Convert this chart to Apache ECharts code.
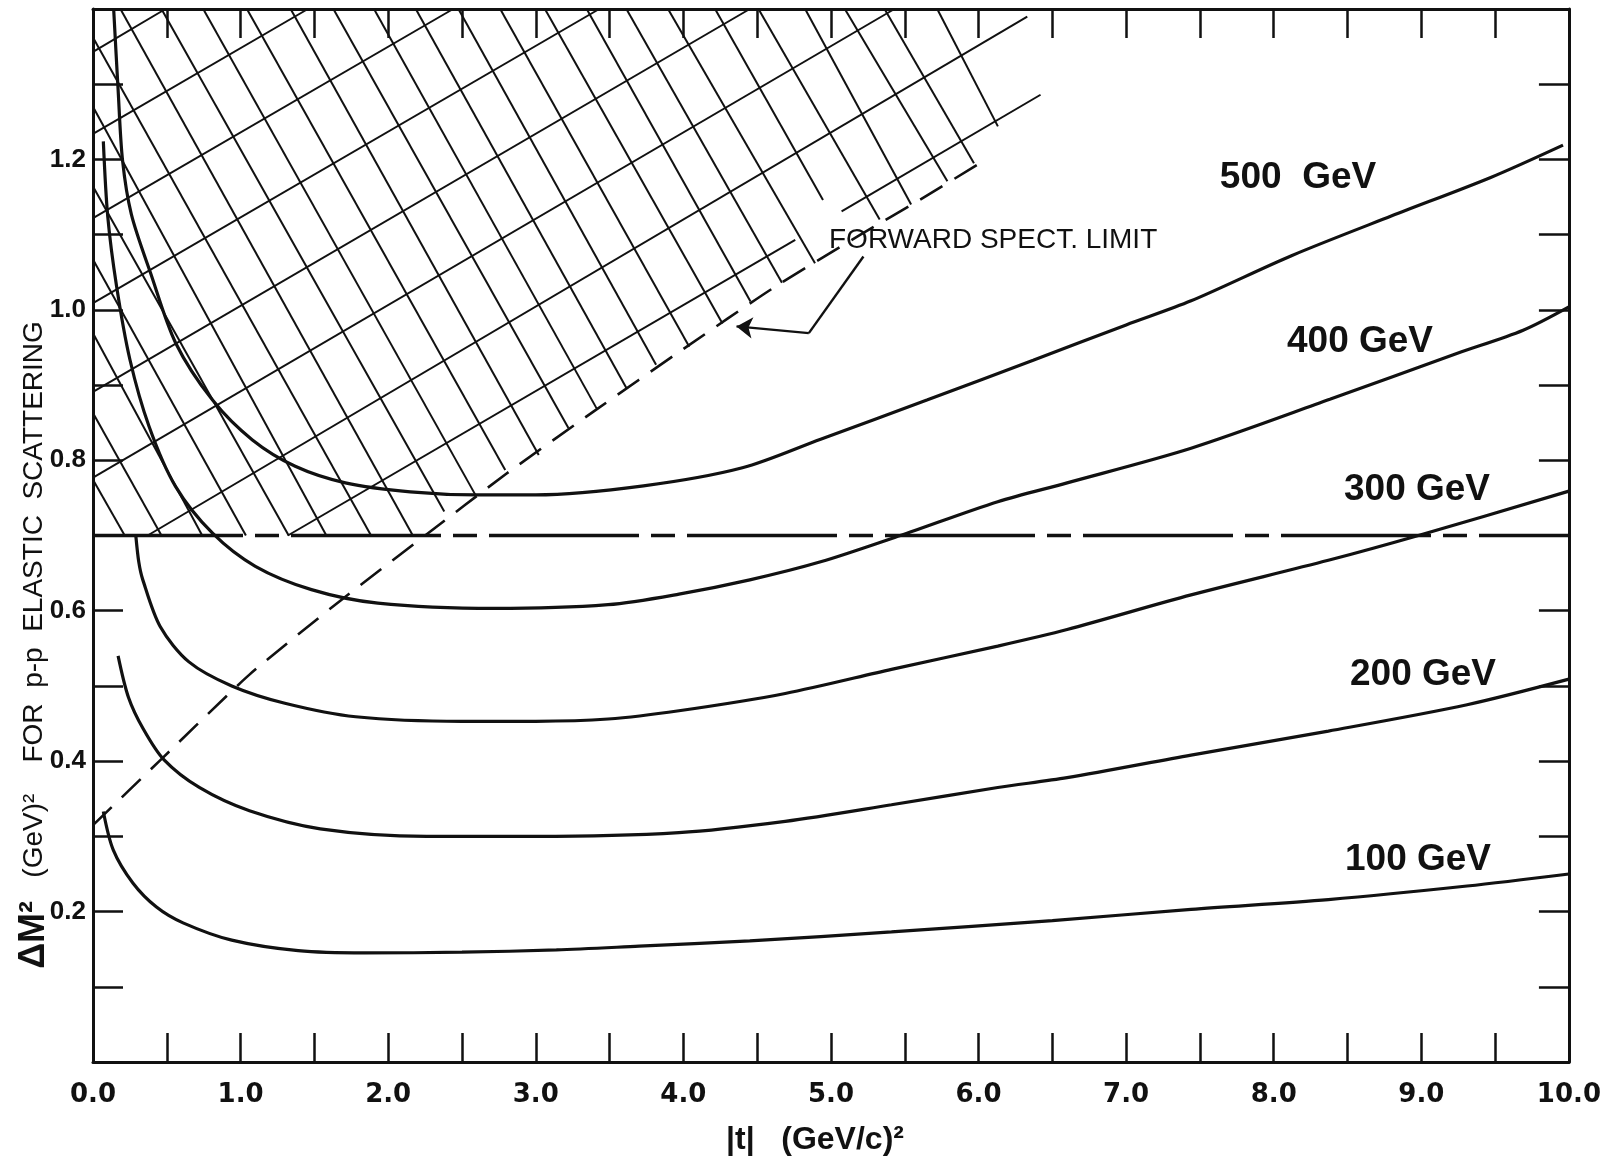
<!DOCTYPE html>
<html>
<head>
<meta charset="utf-8">
<title>Delta M^2 vs |t|</title>
<script src="https://cdn.jsdelivr.net/npm/echarts@6/dist/echarts.min.js"></script>
<style>
  html, body { margin: 0; padding: 0; background: #fff; }
  #chart { width: 1604px; height: 1156px; }
</style>
</head>
<body>
<div id="chart"></div>
<script>
// curves: [|t| (GeV/c)^2, dM^2 (GeV)^2]
const curve100 = [[0.07,0.333],[0.137,0.282],[0.27,0.238],[0.43,0.206],[0.61,0.185],[0.94,0.162],[1.39,0.148],[1.84,0.145],[2.5,0.146],[3.14,0.149],[3.7,0.154],[4.45,0.161],[5.41,0.173],[6.5,0.188],[7.44,0.203],[8.37,0.216],[9.31,0.234],[10,0.25]]
const curve200 = [[0.17,0.54],[0.24,0.485],[0.34,0.443],[0.48,0.402],[0.72,0.365],[1.06,0.334],[1.54,0.31],[2.26,0.30],[3.0,0.30],[3.97,0.305],[4.69,0.32],[5.41,0.342],[6.13,0.365],[6.6,0.378],[7.44,0.408],[8.37,0.44],[9.31,0.475],[10,0.509]]
const curve300 = [[0.29,0.70],[0.31,0.665],[0.336,0.642],[0.455,0.579],[0.65,0.532],[0.94,0.50],[1.3,0.477],[1.78,0.459],[2.5,0.453],[3.0,0.453],[3.49,0.456],[3.97,0.467],[4.69,0.49],[5.41,0.522],[6.13,0.553],[6.6,0.575],[7.44,0.621],[8.37,0.667],[8.98,0.70],[10,0.759]]
const curve400 = [[0.07,1.224],[0.10,1.124],[0.16,1.031],[0.25,0.934],[0.38,0.845],[0.56,0.765],[0.81,0.703],[1.10,0.659],[1.48,0.628],[1.93,0.61],[2.72,0.603],[3.49,0.608],[3.97,0.622],[4.45,0.641],[4.93,0.665],[5.47,0.70],[6.13,0.745],[6.6,0.770],[7.44,0.816],[8.38,0.881],[9.24,0.942],[9.69,0.973],[10,1.004]]
const curve500 = [[0.14,1.40],[0.17,1.293],[0.20,1.199],[0.26,1.127],[0.39,1.049],[0.56,0.956],[0.81,0.880],[1.08,0.827],[1.37,0.792],[1.71,0.770],[2.15,0.758],[2.6,0.754],[3.0,0.754],[3.73,0.766],[4.40,0.79],[4.93,0.828],[5.65,0.88],[6.37,0.933],[7.0,0.98],[7.44,1.012],[8.12,1.072],[8.8,1.125],[9.47,1.176],[9.96,1.219]]

// forward spectrometer limit (dashed) and the 0.7 cut
const specLimit = [[0,0.315],[0.46,0.402],[1.06,0.515],[1.68,0.614],[2.25,0.70],[2.8,0.782],[3.4,0.866],[4.0,0.948],[4.6,1.028],[5.2,1.100],[5.6,1.146],[6.05,1.200]]
const massCut = [[0,0.7],[10,0.7]]

// hatch segments [x1, y1, x2, y2]
const hatchSteep = [
  [0,0.774,0.215,0.7],[0,0.863,0.464,0.7],[0,0.969,0.740,0.7],[0,1.067,1.036,0.7],
  [0,1.164,1.326,0.7],[0,1.270,1.581,0.7],[0,1.362,1.884,0.7],[0.186,1.4,2.167,0.7],
  [0.464,1.4,2.380,0.732],[0.747,1.4,2.591,0.754],[1.043,1.4,2.793,0.787],[1.339,1.4,3.020,0.807],
  [1.629,1.4,3.221,0.843],[1.904,1.4,3.412,0.869],[2.187,1.4,3.614,0.896],[2.476,1.4,3.815,0.927],
  [2.759,1.4,4.040,0.951],[3.062,1.4,4.265,0.982],[3.345,1.4,4.455,1.011],[3.614,1.4,4.668,1.036],
  [3.896,1.4,4.892,1.062],[4.215,1.4,4.946,1.146],[4.509,1.4,5.330,1.120],[4.825,1.4,5.543,1.140],
  [5.094,1.4,5.789,1.171],[5.363,1.4,5.969,1.195],[5.720,1.4,6.131,1.244]
]
const hatchShallow = [
  [0,1.343,0.491,1.4],[0,1.234,1.456,1.4],[0,1.122,2.44,1.4],[0,1.009,3.43,1.4],
  [0,0.891,4.45,1.4],[0,0.777,5.43,1.4],[0.37,0.7,6.33,1.39],[1.32,0.7,4.758,1.093],
  [5.072,1.131,6.42,1.286]
]

// pointer from the label to the limit line
const leaderLine = [[5.22,1.071],[4.85,0.969]]
const leaderArrow = [[4.85,0.969],[4.36,0.978]]

const energyNames = ['100 GeV', '200 GeV', '300 GeV', '400 GeV', '500  GeV']

const FONT = 'Liberation Sans'
const TICK_FONT = 'DejaVu Sans'
const INK = '#111'

const chart = echarts.init(document.getElementById('chart'))

const curveSeries = (data) => ({
  type: 'line',
  data: data,
  smooth: 0.3,
  symbol: 'none',
  silent: true,
  lineStyle: { color: INK, width: 3.2 }
})

const segs = (list) => list.map((s) => ({ coords: [[s[0], s[1]], [s[2], s[3]]] }))

// frame axes: keep them on the grid edges (onZero off), ticks drawn inwards
const xAxisBase = {
  type: 'value',
  min: 0,
  max: 10,
  interval: 0.5,
  splitLine: { show: false },
  axisLine: { onZero: false, lineStyle: { color: INK, width: 3 } },
  axisTick: { inside: true, length: 29, lineStyle: { color: INK, width: 2.5 } }
}
const yAxisBase = {
  type: 'value',
  min: 0,
  max: 1.4,
  interval: 0.1,
  splitLine: { show: false },
  axisLine: { onZero: false, lineStyle: { color: INK, width: 3 } },
  axisTick: { inside: true, length: 30, lineStyle: { color: INK, width: 2.5 } }
}

const labelText = (text, x, y, size, weight, align) => ({
  type: 'text',
  x: x,
  y: y,
  silent: true,
  style: {
    text: text,
    fill: INK,
    font: `${weight} ${size}px "${FONT}"`,
    align: align || 'center',
    verticalAlign: 'middle'
  }
})

chart.setOption({
  animation: false,
  backgroundColor: '#fff',
  grid: { left: 93, top: 9, right: 25, bottom: 94, containLabel: false },
  xAxis: [
    {
      ...xAxisBase,
      position: 'bottom',
      axisLabel: {
        margin: 20,
        color: INK,
        fontFamily: TICK_FONT,
        fontWeight: 'bold',
        fontSize: 26,
        formatter: (v) => (Math.abs(v - Math.round(v)) < 1e-6 ? v.toFixed(1) : '')
      }
    },
    { ...xAxisBase, position: 'top', axisLabel: { show: false } }
  ],
  yAxis: [
    {
      ...yAxisBase,
      position: 'left',
      axisLabel: {
        margin: 7,
        color: INK,
        fontFamily: FONT,
        fontWeight: 'bold',
        fontSize: 26,
        formatter: (v) => {
          const k = Math.round(v * 10)
          return k % 2 === 0 && k >= 2 && k <= 12 ? v.toFixed(1) : ''
        }
      }
    },
    { ...yAxisBase, position: 'right', axisLabel: { show: false } }
  ],
  series: [
    {
      type: 'lines',
      coordinateSystem: 'cartesian2d',
      silent: true,
      data: segs(hatchSteep),
      lineStyle: { color: INK, width: 2, opacity: 1 }
    },
    {
      type: 'lines',
      coordinateSystem: 'cartesian2d',
      silent: true,
      data: segs(hatchShallow),
      lineStyle: { color: INK, width: 2, opacity: 1 }
    },
    {
      type: 'line',
      data: specLimit,
      smooth: 0.2,
      symbol: 'none',
      silent: true,
      lineStyle: { color: INK, width: 2.6, type: [26, 14] }
    },
    {
      type: 'line',
      data: massCut,
      symbol: 'none',
      silent: true,
      lineStyle: { color: INK, width: 3.4, type: [150, 12, 24, 12] }
    },
    curveSeries(curve100),
    curveSeries(curve200),
    curveSeries(curve300),
    curveSeries(curve400),
    curveSeries(curve500),
    {
      type: 'line',
      data: leaderLine,
      symbol: 'none',
      silent: true,
      lineStyle: { color: INK, width: 2.4 }
    },
    {
      type: 'lines',
      coordinateSystem: 'cartesian2d',
      silent: true,
      symbol: ['none', 'arrow'],
      symbolSize: 16,
      data: [{ coords: leaderArrow }],
      lineStyle: { color: INK, width: 2.4, opacity: 1 }
    }
  ],
  graphic: [
    labelText(energyNames[4], 1298, 178, 37, 'bold'),
    labelText(energyNames[3], 1360, 342, 37, 'bold'),
    labelText(energyNames[2], 1417, 490, 37, 'bold'),
    labelText(energyNames[1], 1423, 675, 37, 'bold'),
    labelText(energyNames[0], 1418, 860, 37, 'bold'),
    labelText('FORWARD SPECT. LIMIT', 829, 240, 28, 'normal', 'left'),
    {
      type: 'text',
      x: 815,
      y: 1140,
      silent: true,
      style: {
        text: '|t|   (GeV/c)²',
        fill: INK,
        font: `bold 32px "${FONT}"`,
        align: 'center',
        verticalAlign: 'middle'
      }
    },
    {
      type: 'text',
      x: 34,
      y: 645,
      rotation: Math.PI / 2,
      silent: true,
      style: {
        text: '{a|ΔM²}{s|   }{b|(GeV)²}{s|    }{c|FOR  p-p  ELASTIC  SCATTERING}',
        fill: INK,
        align: 'center',
        verticalAlign: 'middle',
        rich: {
          a: { font: `bold 36px "${FONT}"`, fill: INK },
          b: { font: `normal 28px "${FONT}"`, fill: INK },
          c: { font: `normal 28px "${FONT}"`, fill: INK },
          s: { font: `normal 28px "${FONT}"` }
        }
      }
    }
  ]
})
</script>
</body>
</html>
